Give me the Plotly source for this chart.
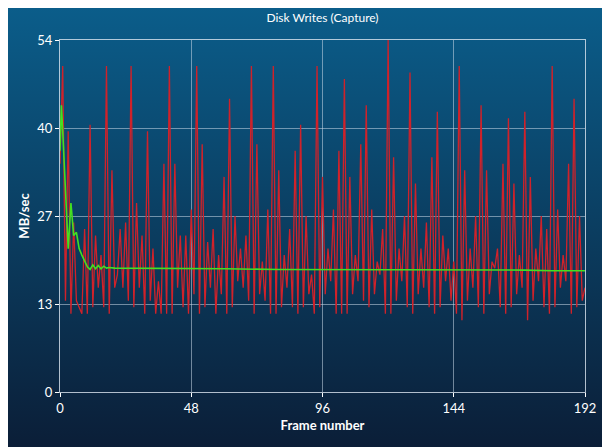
import plotly.graph_objects as go
import base64

red_values = [35,50,14,40,12,26,14,13,12,25,12,41,13,24,16,21,13,50,12,34,16,18,25,16,26,14,50,13,29,16,
24,12,40,14,22,12,17,12,35,12,50,12,35,16,24,13,24,12,28,15,50,12,38,13,23,16,25,12,21,15,
33,12,45,13,27,17,22,16,24,14,50,12,38,15,20,14,28,12,50,12,34,13,21,16,25,13,37,12,41,13,
27,15,18,12,50,13,33,15,22,17,28,12,37,12,48,12,33,15,21,17,38,14,44,13,28,15,20,18,25,12,
54,12,36,14,22,17,27,13,49,12,32,15,22,16,26,13,36,12,43,13,24,17,22,14,20,12,50,11,34,14,
22,16,27,13,44,12,34,15,20,19,22,13,35,12,42,13,32,15,21,16,43,11,33,14,22,17,27,13,25,12,
50,13,28,16,21,17,35,12,45,13,27,14,16]
red_frames = list(range(len(red_values)))

green_frames = [0,0.5,1,2,3,4,5,6,7,8,9,10,11,12,13,14,15,16,17,18,20,24,30,40,60,80,100,120,140,160,170,180,192]
green_values = [37,44,40,30,22,29,24,24.5,22,21,20,19.2,18.8,19.5,18.9,19.4,18.9,19.3,19,19.1,19,19,18.9,18.9,18.9,18.8,18.8,18.8,18.8,18.8,18.7,18.6,18.6]

tick_vals = [0,13.5,27,40.5,54]
tick_text = ["0","13","27","40","54"]
x_ticks = [0,48,96,144,192]

svg = ('<svg xmlns="http://www.w3.org/2000/svg" width="630" height="470" preserveAspectRatio="none">'
       '<defs><linearGradient id="g" x1="0" y1="0" x2="0" y2="1">'
       '<stop offset="0" stop-color="#0b5d8a"/><stop offset="0.95" stop-color="#0b1d36"/><stop offset="1" stop-color="#0b1d36"/>'
       '</linearGradient></defs><rect width="630" height="470" fill="url(#g)"/></svg>')
src = "data:image/svg+xml;base64," + base64.b64encode(svg.encode()).decode()

fig = go.Figure()
fig.add_trace(go.Scatter(x=red_frames, y=red_values, mode="lines",
                         line=dict(color="#d0222a", width=1.3), hoverinfo="skip"))
fig.add_trace(go.Scatter(x=green_frames, y=green_values, mode="lines",
                         line=dict(color="#44e020", width=1.6), hoverinfo="skip"))

axis_common = dict(showgrid=True, gridcolor="rgba(200,215,230,0.55)", gridwidth=1,
                   showline=True, linecolor="rgba(220,230,240,0.8)", linewidth=1, mirror=True,
                   zeroline=False, ticks="outside", tickcolor="white", ticklen=4, automargin=False,
                   tickfont=dict(color="white", size=13, family="Lato"))
fig.update_layout(
    width=610, height=447,
    margin=dict(l=52, r=33, t=32, b=63),
    paper_bgcolor="#0b3a5e", plot_bgcolor="rgba(0,0,0,0)",
    showlegend=False,
    images=[dict(source=src, xref="paper", yref="paper", x=-52/525, y=1+32/352,
                 sizex=630/525, sizey=470/352, sizing="stretch", layer="below",
                 xanchor="left", yanchor="top")],
    title=dict(text="Disk Writes (Capture)", x=(52+525/2)/610, xanchor="center", y=1-10/447, yanchor="middle",
               font=dict(color="white", size=12, family="Lato")),
    xaxis=dict(range=[0,192], tickvals=x_ticks,
               title=dict(text="<b>Frame number</b>", font=dict(color="white", size=13, family="Lato"), standoff=6),
               **axis_common),
    yaxis=dict(range=[0,54], tickvals=tick_vals, ticktext=tick_text,
               title=dict(text="<b>MB/sec</b>", font=dict(color="white", size=13, family="Lato"), standoff=4),
               **axis_common),
)
fig.write_html("out.html")
